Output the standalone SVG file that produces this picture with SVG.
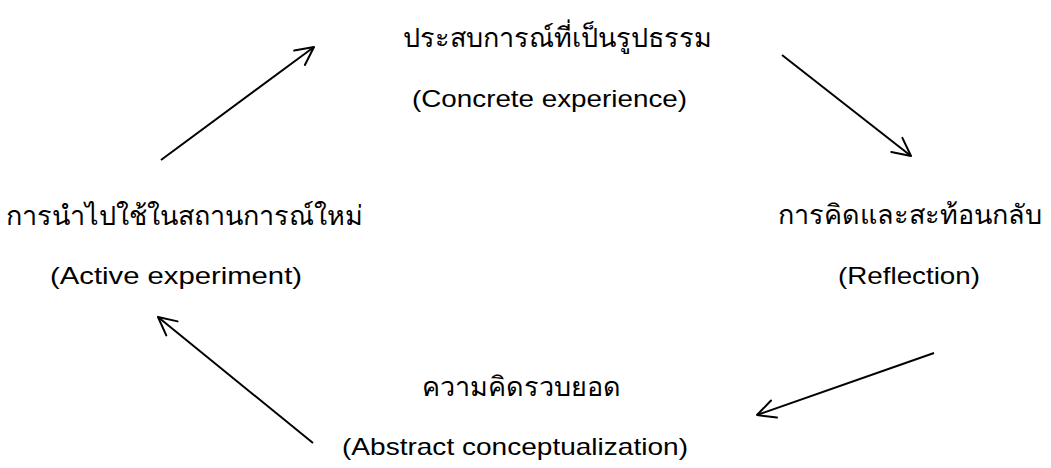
<svg xmlns="http://www.w3.org/2000/svg" width="1051" height="468" viewBox="0 0 1051 468">
  <style>
    .th { font-family: "Liberation Sans", "Noto Sans", sans-serif; font-size: 27px; fill: #000; text-anchor: middle; }
    .en { font-family: "Liberation Sans", Arial, sans-serif; font-size: 24px; fill: #000; }
    .conn line { stroke: #000; stroke-width: 2; fill: none; }
  </style>
  <defs>
    <marker id="open-arrow" viewBox="0 0 22 22" refX="20" refY="11" markerWidth="22" markerHeight="22" markerUnits="userSpaceOnUse" orient="auto">
      <path d="M2,2 L20,11 L2,20" fill="none" stroke="#000" stroke-width="2" stroke-linecap="round" stroke-linejoin="round"/>
    </marker>
  </defs>

  <g id="concrete-experience">
    <text class="th" x="557" y="47">ประสบการณ์ที่เป็นรูปธรรม</text>
    <text class="en" x="412" y="107" textLength="275" lengthAdjust="spacingAndGlyphs">(Concrete experience)</text>
  </g>

  <g id="reflection">
    <text class="th" x="910" y="224">การคิดและสะท้อนกลับ</text>
    <text class="en" x="838" y="284" textLength="142" lengthAdjust="spacingAndGlyphs">(Reflection)</text>
  </g>

  <g id="abstract-conceptualization">
    <text class="th" x="521" y="396">ความคิดรวบยอด</text>
    <text class="en" x="342" y="455" textLength="346" lengthAdjust="spacingAndGlyphs">(Abstract conceptualization)</text>
  </g>

  <g id="active-experiment">
    <text class="th" x="184" y="225">การนำไปใช้ในสถานการณ์ใหม่</text>
    <text class="en" x="50" y="284" textLength="252" lengthAdjust="spacingAndGlyphs">(Active experiment)</text>
  </g>

  <g id="connectors" class="conn">
    <line x1="161" y1="160" x2="314" y2="47" marker-end="url(#open-arrow)"/>
    <line x1="782" y1="55" x2="911" y2="156" marker-end="url(#open-arrow)"/>
    <line x1="934" y1="353" x2="757" y2="415" marker-end="url(#open-arrow)"/>
    <line x1="313" y1="443" x2="158" y2="317" marker-end="url(#open-arrow)"/>
  </g>
</svg>
